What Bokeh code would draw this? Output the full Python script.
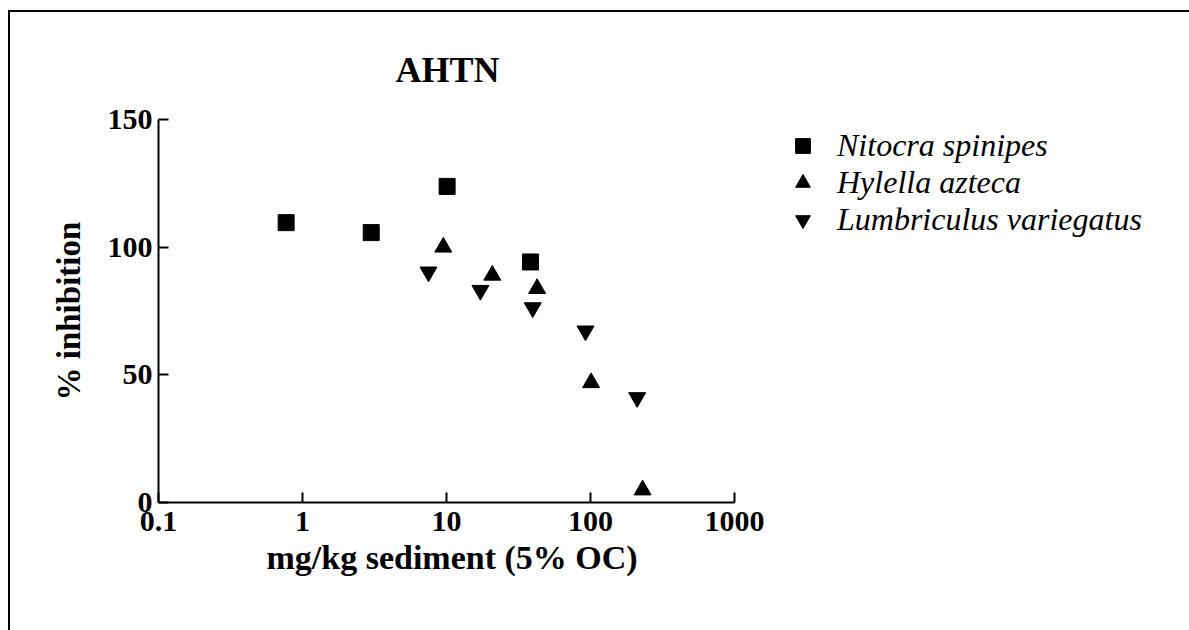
from bokeh.plotting import figure
from bokeh.models import (FixedTicker, CustomJSTickFormatter, Legend, LegendItem,
                          Range1d, Title, Label)
from bokeh.embed import file_html
from bokeh.resources import INLINE

title_text = "AHTN"
x_label = "mg/kg sediment (5% OC)"
y_label = "% inhibition"
x_ticks = [0.1, 1, 10, 100, 1000]
y_ticks = [0, 50, 100, 150]

series_names = ["Nitocra spinipes", "Hylella azteca", "Lumbriculus variegatus"]

nitocra_x = [0.77, 3.0, 10.1, 38.3]
nitocra_y = [109.6, 105.7, 123.8, 94.2]

hylella_x = [9.5, 20.8, 42.6, 101.0, 230.0]
hylella_y = [100.0, 89.0, 83.8, 46.9, 4.9]

lumbri_x = [7.5, 17.2, 39.7, 92.3, 211.0]
lumbri_y = [90.3, 83.1, 76.3, 67.2, 41.1]

SERIF = "Liberation Serif"

# ---- layout (pixels of the page) ----
W, H = 1189, 630
LEFT, BOTTOM = 158, 128           # axes sit here
AXIS_TOP = 119                    # where y = 150 lies (from top)
frame_w = W - LEFT
frame_h = H - BOTTOM
decade_px = 144.0                 # width of one log decade
y_end = y_ticks[-1] * frame_h / (frame_h - AXIS_TOP)
x_end = x_ticks[0] * 10 ** (frame_w / decade_px)

p = figure(width=W, height=H, x_axis_type="log",
           x_range=Range1d(x_ticks[0], x_end),
           y_range=Range1d(y_ticks[0], y_end),
           output_backend="svg", toolbar_location=None,
           min_border_left=LEFT, min_border_right=0,
           min_border_top=0, min_border_bottom=BOTTOM)

# page frame: thin black rule at the top and left (drawn behind a transparent canvas)
p.background_fill_alpha = 0
p.border_fill_alpha = 0
p.styles = {"background": "linear-gradient(#000, #000) 8px 10px / 2px 100% no-repeat, "
                          "linear-gradient(#000, #000) 8px 10px / 100% 2px no-repeat, #fff"}

p.outline_line_color = None
p.xgrid.grid_line_color = None
p.ygrid.grid_line_color = None

p.xaxis.ticker = FixedTicker(ticks=x_ticks)
p.xaxis.formatter = CustomJSTickFormatter(code="return tick >= 1 ? tick.toFixed(0) : tick.toFixed(1);")
p.yaxis.ticker = FixedTicker(ticks=y_ticks)
p.xaxis.bounds = (x_ticks[0], x_ticks[-1])
p.yaxis.bounds = (y_ticks[0], y_ticks[-1])

for ax in (p.xaxis[0], p.yaxis[0]):
    ax.axis_line_width = 2
    ax.axis_line_color = "black"
    ax.major_tick_line_width = 2
    ax.major_tick_line_color = "black"
    ax.major_tick_in = 10
    ax.major_tick_out = 0
    ax.minor_tick_line_color = None
    ax.major_label_text_font = SERIF
    ax.major_label_text_font_style = "bold"
    ax.major_label_text_font_size = "30px"
    ax.major_label_text_color = "black"

p.yaxis.major_label_standoff = 6
p.xaxis.major_label_standoff = 9

# axis titles (left-aligned with an offset so they sit under / beside the axes)
xt = Title(text=x_label, align="left", offset=108, vertical_align="top", standoff=10,
           text_font=SERIF, text_font_style="bold", text_font_size="34px", text_color="black")
p.add_layout(xt, "below")
yt = Title(text=y_label, align="left", offset=102, vertical_align="bottom", standoff=36,
           text_font=SERIF, text_font_style="bold", text_font_size="33px", text_color="black")
p.add_layout(yt, "left")

r1 = p.scatter(nitocra_x, nitocra_y, marker="square", size=16, color="black")
r2 = p.scatter(hylella_x, hylella_y, marker="triangle", size=17, color="black")
r3 = p.scatter(lumbri_x, lumbri_y, marker="inverted_triangle", size=17, color="black")

title = Label(x=289, y=433, x_units="screen", y_units="screen", text=title_text,
              text_align="center", text_baseline="alphabetic",
              text_font=SERIF, text_font_style="bold", text_font_size="36px",
              text_color="black")
p.add_layout(title)

legend = Legend(items=[LegendItem(label=series_names[0], renderers=[r1]),
                       LegendItem(label=series_names[1], renderers=[r2]),
                       LegendItem(label=series_names[2], renderers=[r3])],
                location=(625, 264), padding=0, margin=0, spacing=0,
                glyph_width=39, glyph_height=37, label_height=37,
                label_standoff=15, border_line_color=None,
                background_fill_alpha=0,
                label_text_font=SERIF, label_text_font_style="italic",
                label_text_font_size="32px", label_text_color="black")
p.add_layout(legend)

open("out.html", "w").write(file_html(p, INLINE))
